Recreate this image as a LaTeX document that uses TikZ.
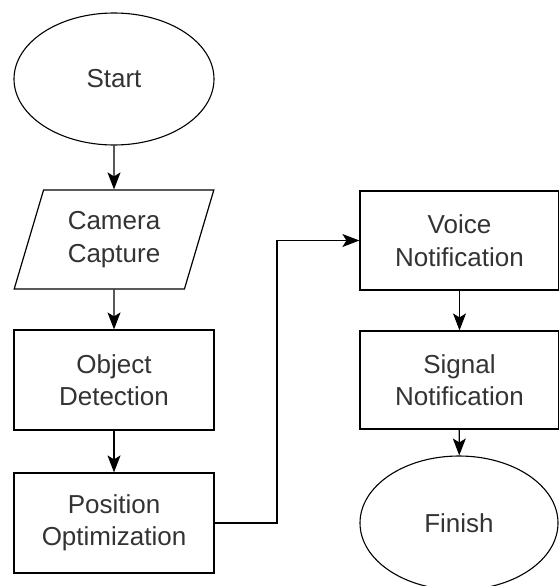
\documentclass[tikz,border=0pt]{standalone}
\usepackage{fontspec}
\setmainfont{Liberation Sans}
\usetikzlibrary{shapes.geometric,arrows.meta}
\definecolor{txt}{HTML}{333333}
\begin{document}
\begin{tikzpicture}[x=1pt,y=-1pt,
  every node/.style={font=\fontsize{26}{32.5}\selectfont, text=txt, align=center, inner sep=0pt},
  terminal/.style={draw, ellipse, line width=1.1pt, minimum width=200pt, minimum height=132pt},
  process/.style={draw, rectangle, line width=1.2pt, minimum width=200pt, minimum height=100pt},
  io/.style={draw, trapezium, trapezium stretches=true, trapezium left angle=71, trapezium right angle=109,
             line width=1.2pt, minimum width=200pt, minimum height=99pt},
  flow/.style={line width=1.2pt, -{Stealth[length=17pt, width=13pt, inset=4pt]}}
]
\useasboundingbox (0,0) rectangle (558,586);

% left column
\node[terminal] (start) at (114,79) {Start};
\node[io] (cam) at (114,239.5) {Camera\\Capture};
\node[process] (obj) at (114,380) {Object\\Detection};
\node[process] (pos) at (114,523) {Position\\Optimization};

% right column
\node[process, minimum width=199pt, minimum height=99pt] (voice) at (459.5,240.5) {Voice\\Notification};
\node[process, minimum width=199pt, minimum height=98pt] (signal) at (459.5,380) {Signal\\Notification};
\node[terminal, minimum width=198pt, minimum height=134pt] (finish) at (459,523) {Finish};

% connectors
\draw[flow] (start) -- (cam);
\draw[flow] (cam) -- (obj);
\draw[flow] (obj) -- (pos);
\coordinate (bend) at (277,523);
\draw[flow] (pos.east) -- (bend) |- (voice.west);
\draw[flow] (voice) -- (signal);
\draw[flow] (signal) -- (finish);
\end{tikzpicture}
\end{document}
